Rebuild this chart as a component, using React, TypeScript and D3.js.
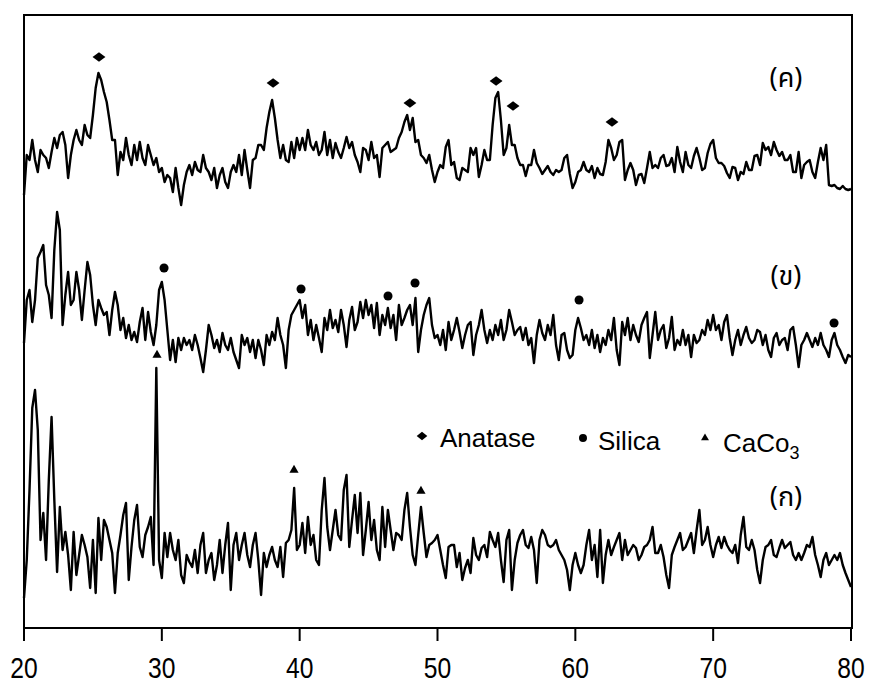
import * as d3 from 'd3'

// 2θ grid (degrees), 0.2° step
const twoTheta = [
  20, 20.2, 20.4, 20.6, 20.8, 21, 21.2, 21.4, 21.6, 21.8, 22, 22.2, 22.4, 22.6, 22.8, 23, 23.2, 23.4, 23.6, 23.8,
  24, 24.2, 24.4, 24.6, 24.8, 25, 25.2, 25.4, 25.6, 25.8, 26, 26.2, 26.4, 26.6, 26.8, 27, 27.2, 27.4, 27.6, 27.8,
  28, 28.2, 28.4, 28.6, 28.8, 29, 29.2, 29.4, 29.6, 29.8, 30, 30.2, 30.4, 30.6, 30.8, 31, 31.2, 31.4, 31.6, 31.8,
  32, 32.2, 32.4, 32.6, 32.8, 33, 33.2, 33.4, 33.6, 33.8, 34, 34.2, 34.4, 34.6, 34.8, 35, 35.2, 35.4, 35.6, 35.8,
  36, 36.2, 36.4, 36.6, 36.8, 37, 37.2, 37.4, 37.6, 37.8, 38, 38.2, 38.4, 38.6, 38.8, 39, 39.2, 39.4, 39.6, 39.8,
  40, 40.2, 40.4, 40.6, 40.8, 41, 41.2, 41.4, 41.6, 41.8, 42, 42.2, 42.4, 42.6, 42.8, 43, 43.2, 43.4, 43.6, 43.8,
  44, 44.2, 44.4, 44.6, 44.8, 45, 45.2, 45.4, 45.6, 45.8, 46, 46.2, 46.4, 46.6, 46.8, 47, 47.2, 47.4, 47.6, 47.8,
  48, 48.2, 48.4, 48.6, 48.8, 49, 49.2, 49.4, 49.6, 49.8, 50, 50.2, 50.4, 50.6, 50.8, 51, 51.2, 51.4, 51.6, 51.8,
  52, 52.2, 52.4, 52.6, 52.8, 53, 53.2, 53.4, 53.6, 53.8, 54, 54.2, 54.4, 54.6, 54.8, 55, 55.2, 55.4, 55.6, 55.8,
  56, 56.2, 56.4, 56.6, 56.8, 57, 57.2, 57.4, 57.6, 57.8, 58, 58.2, 58.4, 58.6, 58.8, 59, 59.2, 59.4, 59.6, 59.8,
  60, 60.2, 60.4, 60.6, 60.8, 61, 61.2, 61.4, 61.6, 61.8, 62, 62.2, 62.4, 62.6, 62.8, 63, 63.2, 63.4, 63.6, 63.8,
  64, 64.2, 64.4, 64.6, 64.8, 65, 65.2, 65.4, 65.6, 65.8, 66, 66.2, 66.4, 66.6, 66.8, 67, 67.2, 67.4, 67.6, 67.8,
  68, 68.2, 68.4, 68.6, 68.8, 69, 69.2, 69.4, 69.6, 69.8, 70, 70.2, 70.4, 70.6, 70.8, 71, 71.2, 71.4, 71.6, 71.8,
  72, 72.2, 72.4, 72.6, 72.8, 73, 73.2, 73.4, 73.6, 73.8, 74, 74.2, 74.4, 74.6, 74.8, 75, 75.2, 75.4, 75.6, 75.8,
  76, 76.2, 76.4, 76.6, 76.8, 77, 77.2, 77.4, 77.6, 77.8, 78, 78.2, 78.4, 78.6, 78.8, 79, 79.2, 79.4, 79.6, 79.8,
  80,
]

// (ค) sample - intensity (a.u.) above its own baseline
const sampleC = [
  5, 45, 40, 60, 40, 28, 50, 45, 42, 32, 48, 62, 52, 65, 68, 55, 22, 45, 60, 70,
  60, 55, 75, 65, 62, 85, 112, 127, 120, 108, 98, 80, 60, 60, 25, 48, 40, 62, 45, 35,
  55, 40, 58, 42, 35, 55, 45, 35, 42, 28, 32, 18, 25, 22, 8, 32, 12, -5, 15, 28,
  35, 25, 38, 30, 28, 45, 32, 28, 20, 32, 12, 25, 32, 18, 12, 28, 35, 28, 45, 25,
  50, 30, 12, 40, 42, 55, 55, 50, 72, 88, 100, 82, 60, 42, 55, 40, 38, 58, 42, 62,
  50, 62, 50, 70, 55, 50, 58, 45, 50, 68, 45, 60, 42, 57, 48, 42, 52, 63, 52, 58,
  45, 38, 28, 52, 50, 40, 58, 42, 45, 23, 52, 55, 58, 48, 50, 52, 62, 68, 78, 85,
  70, 82, 58, 60, 45, 42, 37, 45, 30, 18, 28, 35, 32, 53, 60, 35, 38, 22, 20, 32,
  30, 28, 52, 45, 52, 23, 35, 50, 40, 40, 75, 102, 108, 80, 45, 52, 75, 55, 55, 42,
  35, 35, 24, 35, 35, 50, 37, 32, 26, 30, 34, 28, 25, 30, 28, 30, 42, 45, 26, 12,
  18, 28, 30, 38, 30, 28, 34, 22, 32, 26, 25, 38, 60, 52, 40, 45, 58, 60, 20, 30,
  37, 30, 15, 25, 26, 17, 32, 48, 32, 35, 32, 42, 45, 34, 35, 42, 28, 53, 38, 28,
  48, 35, 32, 44, 52, 42, 30, 32, 47, 56, 60, 42, 37, 37, 34, 27, 22, 33, 32, 20,
  28, 26, 38, 30, 30, 44, 45, 35, 57, 50, 53, 45, 58, 50, 44, 48, 40, 40, 45, 28,
  28, 48, 22, 35, 38, 40, 28, 22, 38, 52, 40, 55, 15, 14, 15, 12, 11, 14, 11, 10,
  11,
]

// (ข) sample
const sampleB = [
  37, 80, 90, 58, 80, 122, 128, 135, 95, 85, 62, 130, 168, 150, 55, 85, 108, 75, 80, 108,
  90, 60, 90, 118, 105, 75, 55, 80, 72, 65, 68, 45, 70, 88, 75, 50, 62, 42, 55, 40,
  48, 38, 58, 72, 40, 68, 48, 35, 55, 90, 98, 80, 50, 20, 40, 18, 42, 30, 42, 35,
  40, 30, 45, 35, 22, 8, 30, 55, 45, 32, 40, 28, 47, 35, 30, 42, 28, 20, 12, 45,
  35, 42, 28, 40, 22, 40, 30, 15, 45, 35, 48, 40, 62, 45, 35, 12, 50, 65, 70, 75,
  80, 62, 75, 45, 60, 40, 55, 42, 28, 62, 50, 70, 52, 60, 48, 70, 55, 33, 60, 73,
  50, 58, 78, 62, 80, 65, 75, 52, 77, 45, 65, 55, 72, 52, 65, 40, 75, 55, 62, 70,
  75, 55, 82, 28, 50, 65, 75, 82, 55, 42, 45, 35, 50, 30, 58, 40, 50, 62, 48, 32,
  45, 55, 58, 25, 45, 55, 70, 50, 37, 50, 40, 55, 45, 60, 40, 50, 70, 58, 45, 50,
  53, 40, 52, 35, 42, 17, 45, 60, 47, 40, 55, 45, 65, 35, 20, 45, 47, 30, 22, 25,
  50, 62, 52, 40, 45, 35, 50, 32, 45, 28, 42, 35, 50, 40, 62, 30, 15, 58, 45, 62,
  40, 55, 45, 38, 55, 62, 68, 22, 45, 68, 40, 50, 55, 32, 42, 63, 30, 40, 35, 50,
  35, 45, 23, 45, 37, 40, 50, 45, 60, 50, 65, 50, 55, 40, 58, 65, 42, 25, 40, 50,
  35, 45, 53, 42, 37, 40, 50, 48, 35, 45, 30, 23, 42, 47, 35, 40, 42, 30, 50, 53,
  35, 13, 35, 40, 47, 40, 33, 42, 35, 47, 35, 30, 23, 40, 47, 35, 30, 23, 17, 25,
  23,
]

// (ก) sample
const sampleA = [
  12, 50, 120, 202, 220, 180, 70, 97, 50, 130, 193, 110, 38, 103, 60, 78, 55, 20, 78, 35,
  55, 75, 65, 53, 22, 70, 17, 92, 50, 90, 83, 70, 57, 17, 57, 75, 95, 107, 30, 63,
  90, 105, 63, 53, 75, 83, 93, 45, 242, 50, 32, 77, 53, 77, 60, 50, 70, 35, 27, 55,
  48, 43, 60, 37, 65, 77, 37, 50, 57, 30, 45, 70, 37, 65, 87, 20, 65, 77, 50, 65,
  77, 55, 43, 65, 77, 50, 15, 57, 43, 55, 63, 50, 43, 63, 33, 67, 70, 80, 122, 60,
  65, 87, 57, 93, 65, 75, 50, 45, 100, 132, 83, 60, 80, 100, 75, 70, 120, 135, 63, 90,
  115, 77, 117, 55, 80, 108, 70, 90, 60, 50, 103, 63, 100, 80, 60, 77, 75, 70, 100, 117,
  83, 55, 45, 75, 103, 77, 53, 65, 67, 70, 75, 60, 45, 32, 63, 65, 65, 43, 57, 30,
  42, 50, 37, 72, 55, 50, 62, 65, 53, 78, 70, 63, 77, 50, 28, 70, 80, 20, 50, 67,
  75, 80, 65, 62, 73, 60, 27, 70, 80, 75, 65, 63, 65, 70, 60, 55, 50, 40, 20, 45,
  57, 45, 37, 45, 65, 80, 50, 65, 33, 80, 27, 55, 70, 55, 63, 70, 77, 50, 70, 55,
  60, 65, 62, 50, 55, 63, 65, 70, 83, 57, 57, 65, 53, 35, 22, 55, 63, 70, 77, 60,
  63, 70, 77, 57, 80, 100, 65, 70, 83, 65, 53, 65, 73, 62, 73, 65, 60, 57, 65, 47,
  75, 93, 63, 60, 70, 60, 40, 27, 50, 63, 65, 70, 55, 53, 62, 70, 62, 65, 68, 55,
  50, 57, 50, 57, 65, 63, 73, 55, 45, 33, 50, 57, 45, 50, 55, 50, 57, 45, 37, 30,
  23,
]

const sampleNames = ['(ค)', '(ข)', '(ก)']
const sampleOffsets = [428, 248, 18]

// phase markers: [2θ, height above the sample baseline]
const anatasePeaks = [[25.44, 143], [38.07, 117], [48.0, 97], [54.25, 119], [55.48, 94], [62.66, 78]]
const silicaPeaks = [[30.16, 112], [40.1, 91], [46.41, 84], [48.37, 97], [60.27, 80], [78.77, 57]]
const caco3Peaks = [[29.65, 255], [39.59, 140], [48.8, 119]]

const xTicks = [20, 30, 40, 50, 60, 70, 80]

const W = 869
const H = 690
const left = 24
const right = 852
const top = 15
const bottom = 628

const x = d3.scaleLinear().domain([20, 80]).range([left, right - 1])
const y = d3.scaleLinear().domain([0, 613]).range([bottom, top])

const diamond = d3.symbol().type(d3.symbolDiamond2)
const circle = d3.symbol().type(d3.symbolCircle)
const triangle = d3.symbol().type(d3.symbolTriangle2)

export default function App() {
  const series = [sampleC, sampleB, sampleA]
  const line = (vals: number[], off: number) =>
    d3
      .line<number>()
      .x((_, i) => x(twoTheta[i]))
      .y((d) => y(d + off))(vals) || ''

  const labelY = [78, 276, 497]
  const thai = "'Noto Sans Thai', 'Noto Serif Thai', 'Loma', 'Garuda', 'Norasi', 'DejaVu Sans', sans-serif"

  return (
    <svg width={W} height={H} style={{ position: 'absolute', left: 0, top: 0, background: '#fff' }}>
      <rect x={0} y={0} width={W} height={H} fill="#fff" />
      {series.map((s, i) => (
        <path key={i} d={line(s, sampleOffsets[i])} fill="none" stroke="#000" strokeWidth={2.4} strokeLinejoin="round" />
      ))}

      {anatasePeaks.map((p, i) => (
        <path key={'a' + i} d={diamond.size(80)()!} transform={`translate(${x(p[0])},${y(p[1] + sampleOffsets[0])}) scale(1.15,0.85)`} fill="#000" />
      ))}
      {silicaPeaks.map((p, i) => (
        <path key={'s' + i} d={circle.size(64)()!} transform={`translate(${x(p[0])},${y(p[1] + sampleOffsets[1])})`} fill="#000" />
      ))}
      {caco3Peaks.map((p, i) => (
        <path key={'c' + i} d={triangle.size(60)()!} transform={`translate(${x(p[0])},${y(p[1] + sampleOffsets[2])})`} fill="#000" />
      ))}

      {sampleNames.map((n, i) => (
        <text key={n} x={786} y={labelY[i]} textAnchor="middle" dominantBaseline="central" fontFamily={thai} fontSize={27} fill="#000">
          {n}
        </text>
      ))}

      {/* legend */}
      <g fontFamily="'Liberation Sans', Arial, sans-serif" fontSize={26} fill="#000">
        <path d={diamond.size(55)()!} transform="translate(422,436) scale(1.15,0.9)" />
        <text x={440} y={447}>Anatase</text>
        <path d={circle.size(50)()!} transform="translate(583,438)" />
        <text x={598} y={450}>Silica</text>
        <path d={triangle.size(45)()!} transform="translate(705,438)" />
        <text x={723} y={452}>
          CaCo<tspan fontSize={18} dy={7}>3</tspan>
        </text>
      </g>

      {/* frame and axis */}
      <g stroke="#000" strokeWidth={2} strokeLinecap="square">
        <line x1={left} x2={right} y1={top} y2={top} />
        <line x1={left} x2={left} y1={top} y2={bottom} />
        <line x1={right} x2={right} y1={top} y2={bottom} />
        <line x1={left} x2={right} y1={bottom} y2={bottom} />
      </g>
      {xTicks.map((t) => (
        <g key={t} transform={`translate(${x(t)},0)`}>
          <line y1={bottom} y2={bottom + 13} stroke="#000" strokeWidth={2} />
          <text y={678} transform="scale(0.85,1)" textAnchor="middle" fontFamily="'Liberation Sans', Arial, sans-serif" fontSize={29} fill="#000">
            {t}
          </text>
        </g>
      ))}
    </svg>
  )
}
